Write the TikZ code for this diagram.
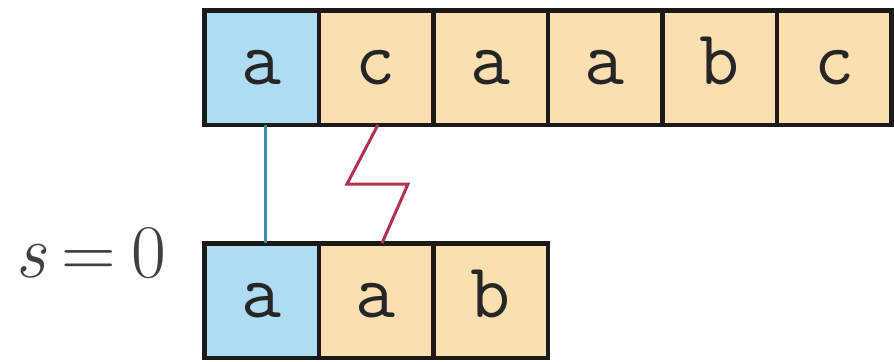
\documentclass[tikz,border=0pt]{standalone}
\usepackage{fontspec}
\definecolor{cellblue}{HTML}{AEDCF4}
\definecolor{cellorange}{HTML}{FBDFB0}
\definecolor{borderc}{HTML}{1C1A18}
\definecolor{matchc}{HTML}{3A8EA8}
\definecolor{missc}{HTML}{B0324E}
\tikzset{
  cell/.style={draw=borderc, line width=4.5bp, minimum width=114.5bp, minimum height=114.5bp,
    inner sep=0pt, outer sep=0pt, font=\ttfamily\fontsize{78}{78}\selectfont,
    text height=34bp, text depth=0pt, text=black!85},
  hit/.style={cell, fill=cellblue},
  miss/.style={cell, fill=cellorange},
  matchline/.style={draw=matchc, line width=3bp},
  missline/.style={draw=missc, line width=3bp, line join=miter},
  lbl/.style={font=\fontsize{76}{76}\selectfont, text=black!75, inner sep=0pt,
    text height=51bp, text depth=0pt}
}
\begin{document}
\begin{tikzpicture}[x=1bp,y=-1bp]
\useasboundingbox (0,0) rectangle (894,361);
\fill[white] (0,0) rectangle (894,361);
% top row
\node[hit]  (t0) at (261.5,67.5) {a};
\node[miss] (t1) at (376,67.5) {c};
\node[miss] (t2) at (490.5,67.5) {a};
\node[miss] (t3) at (605,67.5) {a};
\node[miss] (t4) at (719.5,67.5) {b};
\node[miss] (t5) at (834,67.5) {c};
% bottom row
\node[hit]  (b0) at (261.5,300.5) {a};
\node[miss] (b1) at (376,300.5) {a};
\node[miss] (b2) at (490.5,300.5) {b};
% label
\node[lbl] (s) at (91,251.5) {\textit{s}\hspace{0.2em}=\hspace{0.2em}0};
% connectors
\draw[matchline] (t0.south -| 265,0) -- (b0.north -| 265,0);
\coordinate (z1) at (347,184);
\coordinate (z2) at (408,184);
\draw[missline] (t1.south -| 378,0) -- (z1) -- (z2) -- (b1.north -| 382,0);
\end{tikzpicture}
\end{document}
